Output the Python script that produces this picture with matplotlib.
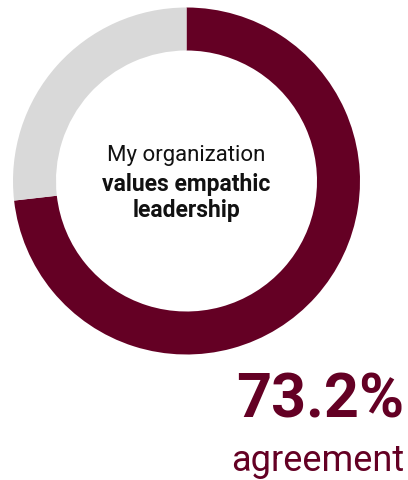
import matplotlib
matplotlib.use("Agg")
import matplotlib.pyplot as plt

labels = ["Agree", "Other"]
values = [73.2, 26.8]
colors = ["#640024", "#d9d9d9"]
center_line1 = "My organization"
center_line2 = "values empathic"
center_line3 = "leadership"
big_value = "73.2%"
big_label = "agreement"

W, H = 408, 480
fig = plt.figure(figsize=(W / 100, H / 100), dpi=100)

cx, cy, r = 186.5, 181, 173.5
ax = fig.add_axes([(cx - r) / W, (H - cy - r) / H, 2 * r / W, 2 * r / H])
ax.pie(values, colors=colors, startangle=90, counterclock=False, radius=1,
       wedgeprops=dict(width=43 / 173.5, linewidth=0))
ax.set_xlim(-1, 1)
ax.set_ylim(-1, 1)
ax.set_aspect("equal")
ax.axis("off")

def ypx(y):
    return 1 - y / H

fig.text(cx / W, ypx(156), center_line1, ha="center", va="center", fontsize=16,
         family="Roboto", color="#111111")
fig.text(cx / W, ypx(184), center_line2, ha="center", va="center", fontsize=16.5,
         family="Roboto", fontweight="bold", color="#111111")
fig.text(cx / W, ypx(210), center_line3, ha="center", va="center", fontsize=16.5,
         family="Roboto", fontweight="bold", color="#111111")

fig.text(404 / W, ypx(401), big_value, ha="right", va="center", fontsize=44,
         family="Roboto", fontweight="bold", color="#640024")
fig.text(404 / W, ypx(461), big_label, ha="right", va="center", fontsize=26,
         family="Roboto", color="#640024")

fig.savefig("out.png", dpi=100)
